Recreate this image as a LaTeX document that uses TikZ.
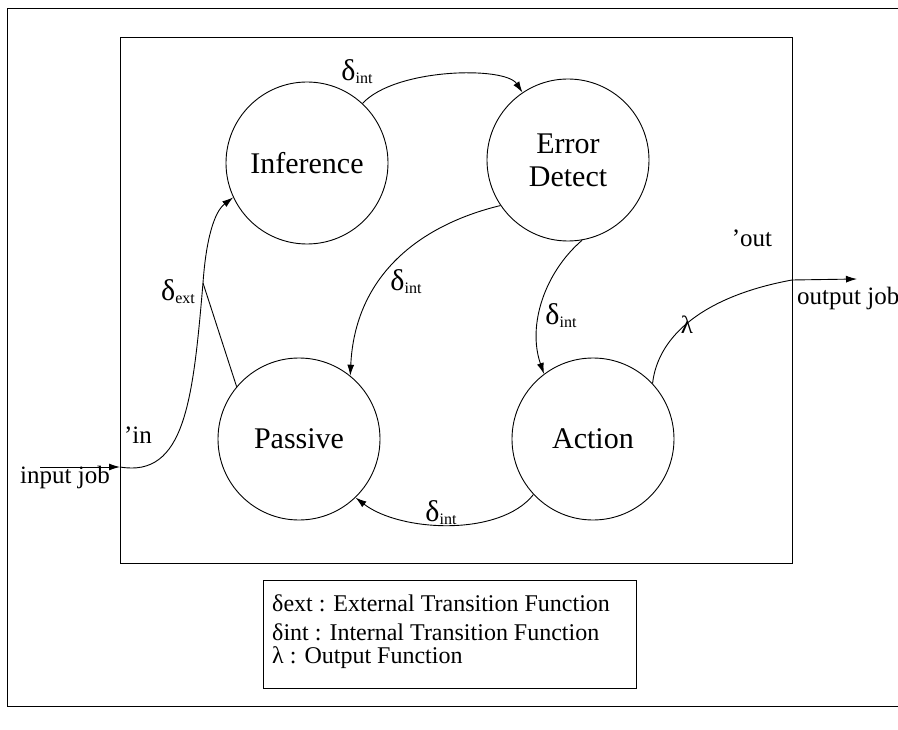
\documentclass[tikz,border=0pt]{standalone}
\usepackage{fontspec}
\setmainfont{Liberation Serif}
\usetikzlibrary{arrows.meta}

% transition symbol: large delta with a small lowered suffix
\newcommand{\dlab}[1]{{\fontsize{30}{30}\selectfont δ}\raisebox{-3pt}{\fontsize{16}{16}\selectfont #1}}

\tikzset{
  frame/.style={draw, line width=0.9pt},
  state/.style={circle, draw, line width=0.9pt, minimum size=162pt, inner sep=0pt,
                align=center, font=\fontsize{30}{33}\selectfont},
  link/.style={draw, line width=0.9pt},
  arr/.style={link, -{Latex[length=11pt,width=7pt]}},
  dl/.style={inner sep=0pt},
  port/.style={inner sep=0pt, font=\fontsize{25}{25}\selectfont},
  legtext/.style={inner sep=0pt, align=left, font=\fontsize{24}{23}\selectfont},
}

\begin{document}
\begin{tikzpicture}[x=1pt,y=-1pt]
\useasboundingbox (0,0) rectangle (898,730);

% outer frame, open on the right
\draw[frame] (898,8) -- (7,8) -- (7,706) -- (898,706);
% model boundary
\draw[frame] (120,37) rectangle (792,563);
% legend box
\draw[frame] (263,580) rectangle (636,688);

% states
\node[state] (inf) at (307,163) {Inference};
\node[state] (err) at (568,160) {Error\\Detect};
\node[state] (pas) at (299,439) {Passive};
\node[state] (act) at (593,439) {Action};

% port coordinates
\coordinate (inStart) at (40,467);
\coordinate (inTip) at (120,467);
\coordinate (join) at (203,283);
\coordinate (outB) at (792,280);
\coordinate (outTip) at (857,279);

% input port into the model
\draw[arr] (inStart) -- (inTip);
\draw[link] (inTip) .. controls (185,478) and (193,400) .. (join);
\draw[link] (pas.140) -- (join);
\draw[arr] (join) .. controls (206,240) and (214,212) .. (inf.205);

% internal transitions
\draw[arr] (inf.47) .. controls (395,68) and (505,66) .. (err.124);
\draw[arr] (err.214) .. controls (420,225) and (355,275) .. (pas.51);
\draw[arr] (err.-80) .. controls (545,272) and (527,325) .. (act.127);
\draw[arr] (act.223) .. controls (500,537) and (400,532) .. (pas.-46);

% output
\draw[arr] (act.43) .. controls (658,335) and (705,296) .. (outB) -- (outTip);

% transition labels
\node[dl] (d1) at (357,72) {\dlab{int}};
\node[dl] (d2) at (406,282) {\dlab{int}};
\node[dl] (d3) at (561,316) {\dlab{int}};
\node[dl] (d4) at (441,513) {\dlab{int}};
\node[dl] (d5) at (178,292) {\dlab{ext}};
\node[port] (lam) at (687,325) {λ};

% port labels
\node[port] (pin) at (138,435) {’in};
\node[port] (pout) at (752,238) {’out};
\node[port, anchor=base] (ijob) at (65,483) {input job};
\node[port, anchor=base west] (ojob) at (797,305) {output job};

% legend
\node[legtext, anchor=north west] (leg) at (272,595)
  {δext : External Transition Function\\[6pt]
   δint : Internal Transition Function\\
   λ : Output Function};
\end{tikzpicture}
\end{document}
